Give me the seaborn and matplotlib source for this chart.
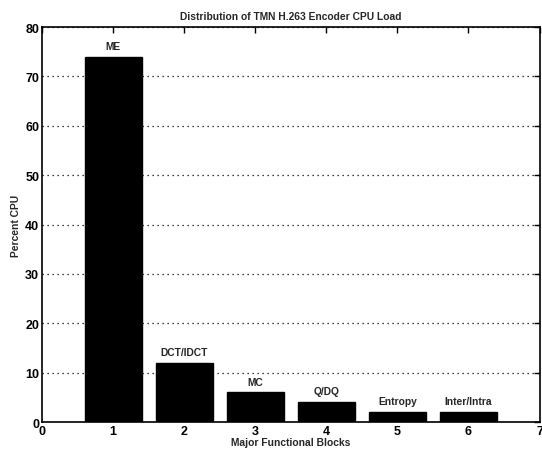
import matplotlib
matplotlib.use("Agg")
import matplotlib.pyplot as plt
import seaborn as sns
import pandas as pd

blocks = [1, 2, 3, 4, 5, 6]
cpu_percent = [74, 12, 6, 4, 2, 2]
block_names = ["ME", "DCT/IDCT", "MC", "Q/DQ", "Entropy", "Inter/Intra"]
x_ticks = [0, 1, 2, 3, 4, 5, 6, 7]
y_ticks = [0, 10, 20, 30, 40, 50, 60, 70, 80]

sns.set_theme(style="white")
plt.rcParams['font.family'] = ['Liberation Sans', 'DejaVu Sans']

df = pd.DataFrame({"block": blocks, "cpu": cpu_percent})

fig = plt.figure(figsize=(5.42, 4.52), dpi=100)
ax = fig.add_axes([0.0775, 0.064, 0.918, 0.874])

ax.yaxis.grid(True, linestyle=(0, (1, 3)), color="black", linewidth=0.9)
ax.set_axisbelow(True)

sns.barplot(data=df, x="block", y="cpu", native_scale=True, color="black",
            saturation=1, width=0.8, ax=ax, edgecolor="black")

for b, v, name in zip(blocks, cpu_percent, block_names):
    ax.text(b, v + 1.2, name, ha="center", va="bottom", fontsize=7.4,
            fontweight="bold")

ax.set_xlim(0, 7)
ax.set_ylim(0, 80)
ax.set_xticks(x_ticks)
ax.set_yticks(y_ticks)
ax.set_xticklabels([str(t) for t in x_ticks], fontsize=9, fontweight="bold")
ax.set_yticklabels([str(t) for t in y_ticks], fontsize=9, fontweight="bold")
ax.tick_params(direction="in", top=True, right=True, length=4, width=1,
               pad=2, colors="black")
for s in ax.spines.values():
    s.set_color("black")
    s.set_linewidth(1.2)

ax.set_title("Distribution of TMN H.263 Encoder CPU Load", fontsize=7.4,
             fontweight="bold", pad=6)
ax.set_xlabel("Major Functional Blocks", fontsize=7.4, fontweight="bold",
              labelpad=0)
ax.set_ylabel("Percent CPU", fontsize=7.4, fontweight="bold", labelpad=3)

fig.savefig("out.png", dpi=100)
